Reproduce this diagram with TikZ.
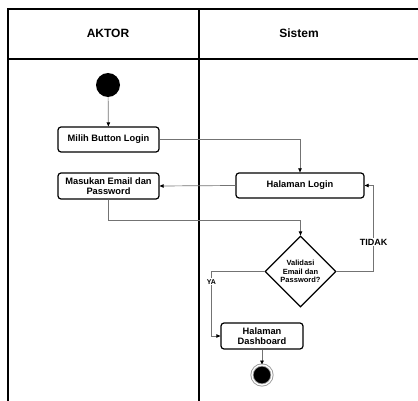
\documentclass[tikz,border=0pt]{standalone}
\usepackage{fontspec}
\setmainfont{Liberation Sans}
\usetikzlibrary{shapes.geometric,arrows.meta}
\begin{document}
\begin{tikzpicture}[x=1pt,y=-1pt]
        \tikzstyle{lane}=[line width=1.8pt]
        \tikzstyle{act}=[rectangle, rounded corners=3pt, draw, line width=1.2pt, align=center, inner sep=0pt, font=\fontsize{9.3}{10.5}\selectfont\bfseries]
        \tikzstyle{flow}=[draw=black!55, line width=0.7pt, -{Triangle[length=4pt,width=3.5pt,color=black]}]
        \tikzstyle{guard}=[fill=white, inner sep=1pt]
        \useasboundingbox (0,0) rectangle (418,401);
        \draw[lane] (8,401) -- (8,9) -- (418,9);
        \draw[lane] (8,59) -- (418,59);
        \draw[lane] (199,9) -- (199,401);
        \node[font=\fontsize{12}{14}\selectfont\bfseries] (aktor) at (108,33) {AKTOR};
        \node[font=\fontsize{12}{14}\selectfont\bfseries] (sistem) at (299,33) {Sistem};
        \node[circle, fill, minimum size=24pt, inner sep=0pt] (start) at (108,85) {};
        \node[act, minimum width=101pt, minimum height=25pt] (milih) at (108.5,139.5) {Milih Button Login};
        \node[act, minimum width=101pt, minimum height=26pt] (masukan) at (108.5,186) {Masukan Email dan\\Password};
        \node[act, minimum width=128pt, minimum height=25pt] (login) at (300,185.5) {Halaman Login};
        \node[diamond, draw, line width=1.2pt, minimum size=71pt, inner sep=0pt, align=center, font=\fontsize{7.5}{8.5}\selectfont\bfseries] (valid) at (300.5,271.5) {Validasi\\Email dan\\Password?};
        \node[act, minimum width=82pt, minimum height=26pt] (dash) at (262,336) {Halaman\\Dashboard};
        \node[circle, draw=black!40, line width=0.9pt, double=white, double distance=1.3pt, fill=black, minimum size=20pt, inner sep=0pt] (finish) at (262,375) {};
        \draw[flow] (start) -- (milih);
        \draw[flow] (milih.east) -| (login.north);
        \draw[flow] (login.west) -- (masukan.east);
        \draw[flow] (masukan.south) -- ++(0,21) -| (valid.north);
        \draw[flow] (valid.east) -- ++(37,0) |- (login.east) node[guard, pos=0.17, font=\fontsize{9}{10}\selectfont\bfseries] {TIDAK};
        \draw[flow] (valid.west) -- ++(-53,0) |- (dash.west) node[guard, pos=0.08, font=\fontsize{7}{8}\selectfont\bfseries] {YA};
        \draw[flow] (dash) -- (finish);
\end{tikzpicture}
\end{document}
